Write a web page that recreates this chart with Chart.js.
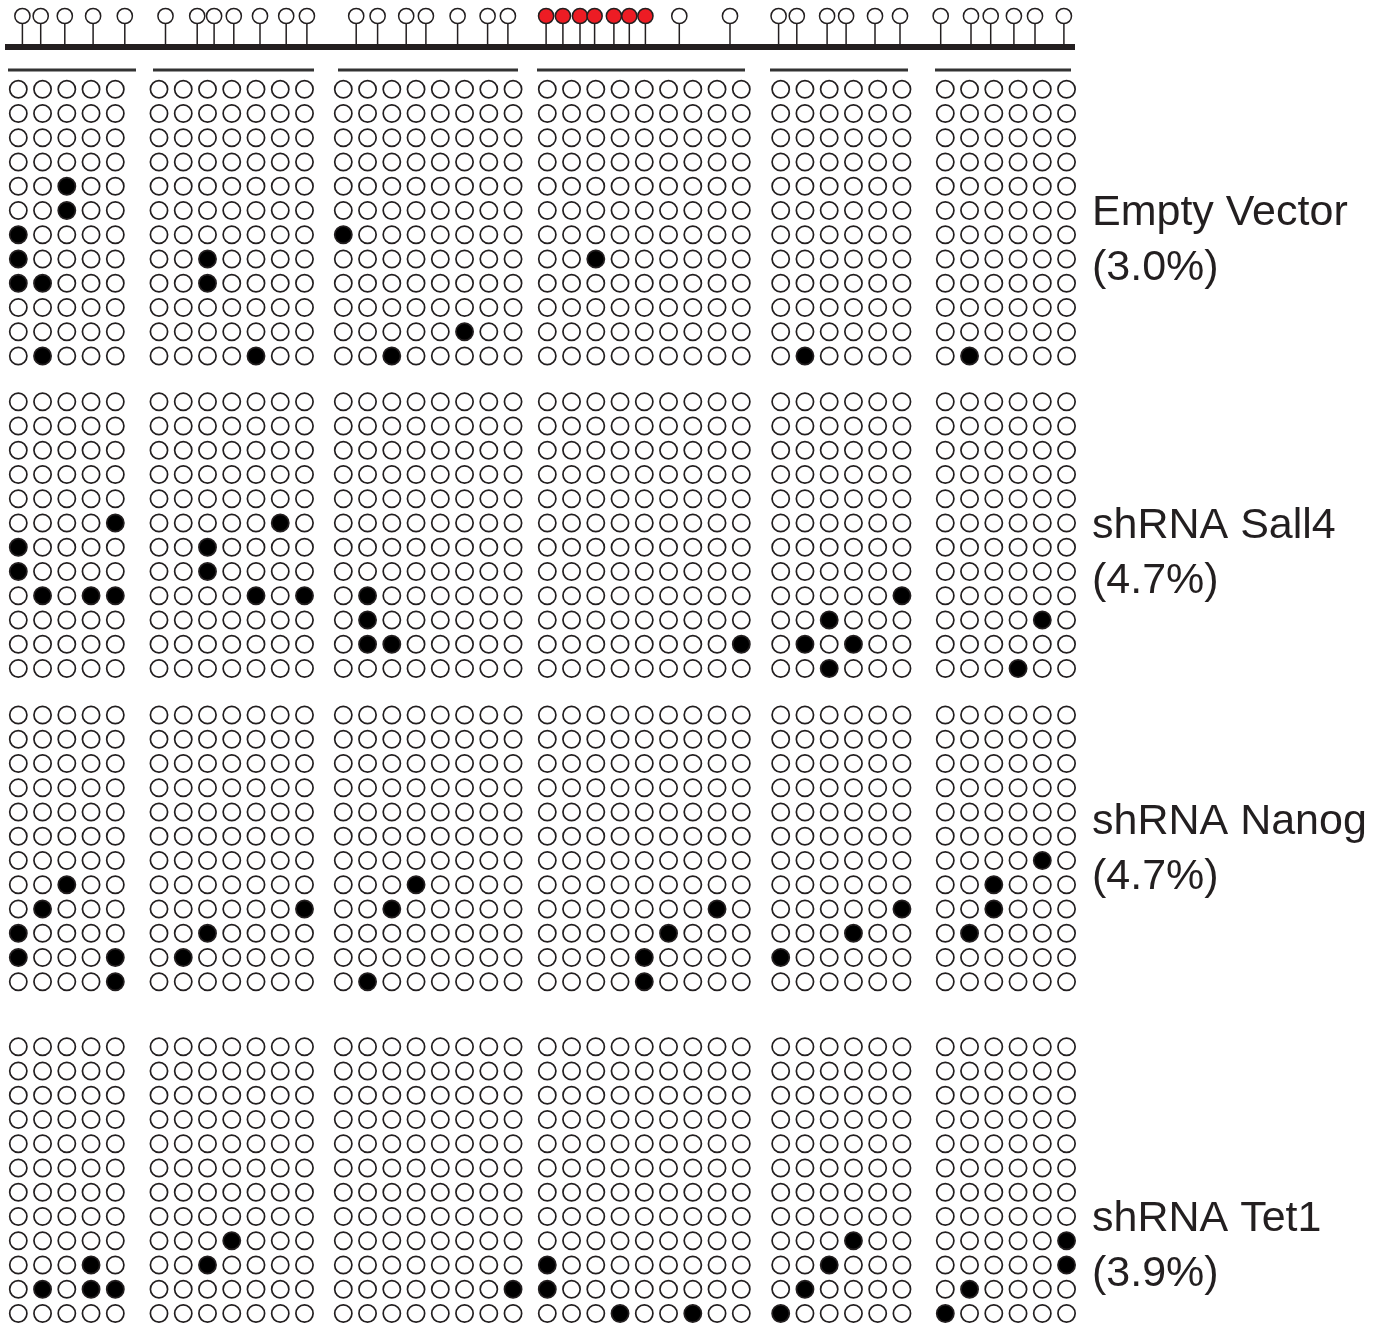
<!DOCTYPE html>
<html>
<head>
<meta charset="utf-8">
<script src="https://cdn.jsdelivr.net/npm/chart.js@4/dist/chart.umd.min.js"></script>
<style>
  body { margin: 0; background: #fff; }
  canvas { display: block; }
</style>
</head>
<body>
<canvas id="chart" width="1385" height="1326"></canvas>
<script>
// CpG counts per amplicon region
const blockSizes = [5, 7, 8, 9, 6, 6];
const rowsPerGroup = 12;

// group labels and methylation level
const groupNames = ["Empty Vector", "shRNA Sall4", "shRNA Nanog", "shRNA Tet1"];
const groupPct = [3.0, 4.7, 4.7, 3.9];

// methylated CpGs, [block, clone row, CpG column]
const emptyVector = [[0,4,2],[0,5,2],[0,6,0],[0,7,0],[0,8,0],[0,8,1],[0,11,1],
  [1,7,2],[1,8,2],[1,11,4],
  [2,6,0],[2,10,5],[2,11,2],
  [3,7,2],
  [4,11,1],
  [5,11,1]];
const shSall4 = [[0,5,4],[0,6,0],[0,7,0],[0,8,1],[0,8,3],[0,8,4],
  [1,5,5],[1,6,2],[1,7,2],[1,8,4],[1,8,6],
  [2,8,1],[2,9,1],[2,10,1],[2,10,2],
  [3,10,8],
  [4,8,5],[4,9,2],[4,10,1],[4,10,3],[4,11,2],
  [5,9,4],[5,11,3]];
const shNanog = [[0,7,2],[0,8,1],[0,9,0],[0,10,0],[0,10,4],[0,11,4],
  [1,8,6],[1,9,2],[1,10,1],
  [2,7,3],[2,8,2],[2,11,1],
  [3,8,7],[3,9,5],[3,10,4],[3,11,4],
  [4,8,5],[4,9,3],[4,10,0],
  [5,6,4],[5,7,2],[5,8,2],[5,9,1]];
const shTet1 = [[0,9,3],[0,10,1],[0,10,3],[0,10,4],
  [1,8,3],[1,9,2],
  [2,10,7],
  [3,9,0],[3,10,0],[3,11,3],[3,11,6],
  [4,8,3],[4,9,2],[4,10,1],[4,11,0],
  [5,8,5],[5,9,5],[5,10,1],[5,11,0]];
const groups = [emptyVector, shSall4, shNanog, shTet1];

// CpG sites along the locus map (red = the highlighted sites)
const openSites = [22.4, 40.7, 64.8, 93.1, 124.8, 165.5, 197.2, 214.1, 233.8, 260, 286.2, 306.9,
  356.2, 377.6, 406.2, 425.9, 457.6, 487.6, 507.9, 679.3, 730,
  778.6, 796.8, 827.1, 846.1, 875, 900, 940.7, 971, 990.7, 1013.9, 1035, 1063.9];
const redSites = [546.1, 562.9, 580, 594.6, 613.9, 629.3, 645.4];

// layout
const blockX = [18.3, 159, 343.3, 547.3, 780.7, 945.3];
const colStep = 24.25;
const groupY = [89.3, 401.7, 715, 1046.7];
const rowStep = 24.25;
const underlines = [[8,136],[153,314],[338,518],[537,745],[770,908],[935,1071]];
const ink = "#231f20";

// build the cell grid
const cells = [];
groups.forEach((meth, g) => {
  blockSizes.forEach((n, b) => {
    for (let r = 0; r < rowsPerGroup; r++) {
      for (let c = 0; c < n; c++) {
        const m = meth.some(p => p[0] === b && p[1] === r && p[2] === c);
        cells.push({x: blockX[b] + c * colStep, y: groupY[g] + r * rowStep, m: m});
      }
    }
  });
});

const stems = [];
openSites.concat(redSites).forEach(x => {
  stems.push({x: x, y: 47}, {x: x, y: 20}, {x: x, y: null});
});

const bars = [];
underlines.forEach(u => {
  bars.push({x: u[0], y: 70}, {x: u[1], y: 70}, {x: u[1], y: null});
});

const labelPlugin = {
  id: "labels",
  afterDraw(chart) {
    const ctx = chart.ctx;
    const xs = chart.scales.x, ys = chart.scales.y;
    const baseY = [224.5, 537.5, 833.5, 1230.5];
    ctx.save();
    ctx.fillStyle = ink;
    ctx.font = "43px 'Liberation Sans', Arial, sans-serif";
    ctx.textBaseline = "alphabetic";
    ctx.textAlign = "left";
    groupNames.forEach((name, i) => {
      const x = xs.getPixelForValue(1092);
      ctx.fillText(name, x, ys.getPixelForValue(baseY[i]));
      ctx.fillText("(" + groupPct[i].toFixed(1) + "%)", x, ys.getPixelForValue(baseY[i] + 55));
    });
    ctx.restore();
  }
};

new Chart(document.getElementById("chart"), {
  type: "scatter",
  data: {
    datasets: [
      {
        data: openSites.map(x => ({x: x, y: 16})),
        pointRadius: 7.6, pointBackgroundColor: "#fff",
        pointBorderColor: ink, pointBorderWidth: 1.5, order: 0, clip: false
      },
      {
        data: redSites.map(x => ({x: x, y: 16})),
        pointRadius: 7.6, pointBackgroundColor: "#ed1c24",
        pointBorderColor: ink, pointBorderWidth: 1.5, order: 0, clip: false
      },
      {
        type: "line", data: stems, showLine: true, spanGaps: false,
        borderColor: ink, borderWidth: 1.5, pointRadius: 0, order: 1, clip: false
      },
      {
        type: "line", data: [{x: 5, y: 47}, {x: 1075, y: 47}], showLine: true,
        borderColor: ink, borderWidth: 6, pointRadius: 0, order: 2, clip: false
      },
      {
        type: "line", data: bars, showLine: true, spanGaps: false,
        borderColor: "#333", borderWidth: 3, pointRadius: 0, order: 2, clip: false
      },
      {
        data: cells,
        pointRadius: 8.6, pointBorderWidth: 1.7, pointBorderColor: ink,
        pointBackgroundColor: ctx => (ctx.raw && ctx.raw.m) ? "#000" : "#fff",
        order: 3, clip: false
      }
    ]
  },
  options: {
    responsive: false,
    animation: false,
    events: [],
    layout: { padding: 0, autoPadding: false },
    plugins: { legend: { display: false }, tooltip: { enabled: false } },
    scales: {
      x: { type: "linear", display: false, min: 0, max: 1385 },
      y: { type: "linear", display: false, min: 0, max: 1326, reverse: true }
    }
  },
  plugins: [labelPlugin]
});
</script>
</body>
</html>
